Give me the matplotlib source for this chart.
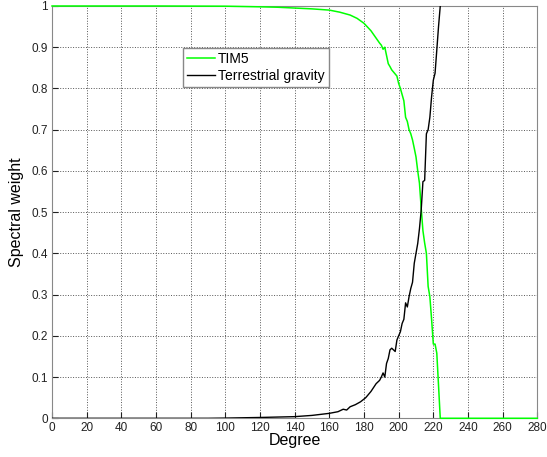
import numpy as np
import matplotlib.pyplot as plt

plt.rcParams['font.family'] = ['Liberation Sans', 'DejaVu Sans']

# TIM5 spectral weight vs degree
deg_tim5 = [0, 60, 100, 120, 130, 140, 150, 160, 166, 172, 176, 180, 184, 187, 189, 190,
            191, 192, 193, 194, 195, 196, 197, 198, 199, 200, 201, 202, 203, 204, 205,
            206, 207, 208, 209, 210, 211, 212, 213, 214, 215, 216, 217, 218, 219, 220,
            221, 222, 223, 224, 280]
w_tim5 = [1.0, 1.0, 0.9995, 0.998, 0.997, 0.995, 0.993, 0.99, 0.985, 0.978, 0.97, 0.958,
          0.94, 0.922, 0.91, 0.905, 0.895, 0.90, 0.88, 0.86, 0.853, 0.845, 0.84, 0.835,
          0.83, 0.812, 0.80, 0.785, 0.77, 0.73, 0.72, 0.70, 0.69, 0.675, 0.655, 0.634,
          0.60, 0.57, 0.51, 0.455, 0.425, 0.40, 0.32, 0.295, 0.24, 0.18, 0.18, 0.158,
          0.08, 0.0, 0.0]

# terrestrial gravity spectral weight vs degree
deg_terr = [0, 90, 100, 120, 130, 140, 150, 160, 165, 168, 170, 172, 175, 178, 181, 184,
            187, 189, 190, 191, 192, 193, 194, 195, 196, 197, 198, 199, 200, 201, 202,
            203, 204, 205, 206, 207, 208, 209, 210, 211, 212, 213, 214, 215, 216, 217,
            218, 219, 220, 221, 222, 223, 224, 225]
w_terr = [0.0, 0.0, 0.0005, 0.002, 0.003, 0.004, 0.007, 0.012, 0.016, 0.022, 0.02, 0.028,
          0.033, 0.04, 0.05, 0.065, 0.084, 0.092, 0.10, 0.11, 0.10, 0.133, 0.145, 0.166,
          0.17, 0.166, 0.162, 0.19, 0.20, 0.21, 0.23, 0.24, 0.28, 0.27, 0.295, 0.315,
          0.33, 0.376, 0.40, 0.424, 0.46, 0.505, 0.574, 0.577, 0.69, 0.70, 0.73, 0.78,
          0.82, 0.837, 0.893, 0.95, 1.0, 1.1]

fig = plt.figure(figsize=(5.47, 4.57), dpi=100)
ax = fig.add_axes([0.0951, 0.0847, 0.8872, 0.9022])

# lines sit above the spines so the zero/one stretches stay visible
ax.plot(deg_tim5, w_tim5, color='#00ff00', lw=1.1, label='TIM5', zorder=3, clip_on=False)
ax.plot(deg_terr, w_terr, color='black', lw=1.0, label='Terrestrial gravity', zorder=3)

ax.set_xlim(0, 280)
ax.set_ylim(0, 1)
ax.set_xticks(np.arange(0, 281, 20))
ax.set_yticks(np.arange(0, 1.01, 0.1))
ax.set_yticklabels(['0', '0.1', '0.2', '0.3', '0.4', '0.5', '0.6', '0.7', '0.8', '0.9', '1'])
ax.tick_params(direction='in', length=4, labelsize=8.5, colors='#222222', pad=3)
ax.grid(True, linestyle=':', color='#555555', lw=0.7)
for s in ax.spines.values():
    s.set_color('#888888')

ax.set_xlabel('Degree', fontsize=11.5, labelpad=-1)
ax.set_ylabel('Spectral weight', fontsize=11.5, labelpad=5)

leg = ax.legend(loc='upper left', bbox_to_anchor=(0.27, 0.898), borderaxespad=0,
                fontsize=10, handlelength=2.0, handletextpad=0.2, fancybox=False,
                framealpha=1, edgecolor='#888888', borderpad=0.3, labelspacing=0.2)

fig.savefig('out.png', dpi=100)
